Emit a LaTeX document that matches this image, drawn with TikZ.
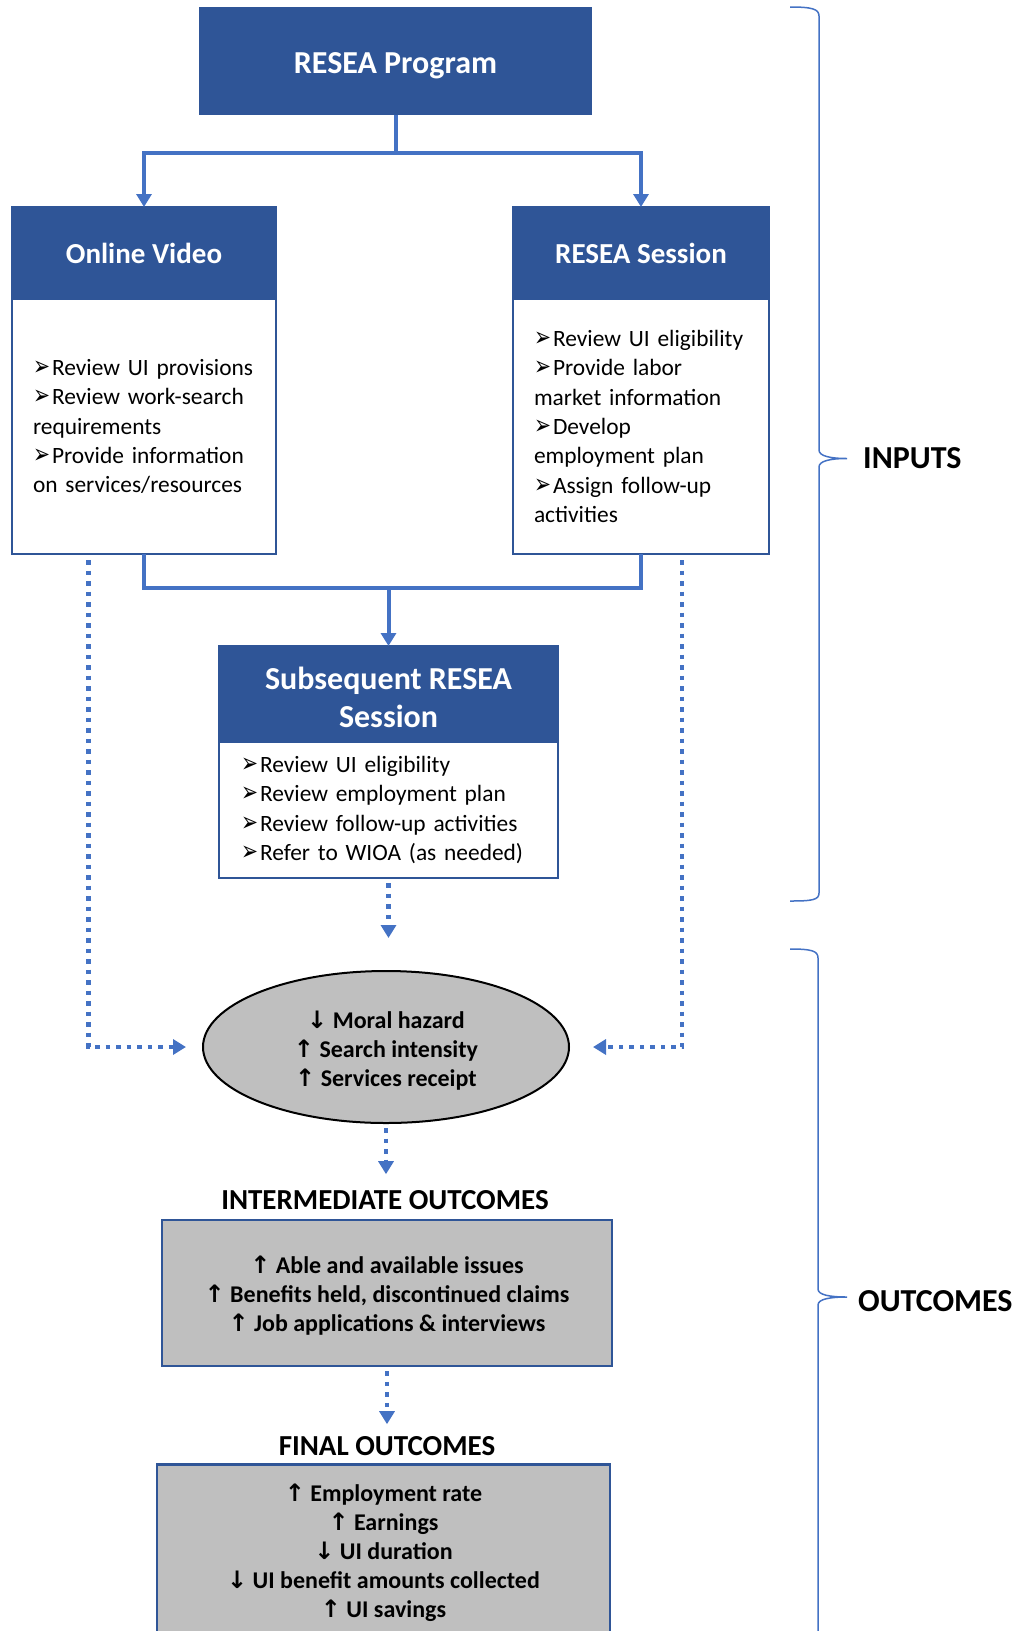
\documentclass[tikz,border=0pt]{standalone}
\usepackage{fontspec}
\usepackage{graphicx}
\setmainfont{Carlito}
\newfontfamily\symfont{DejaVu Sans}
\usetikzlibrary{arrows.meta,positioning,shapes.geometric}

\definecolor{hdrblue}{HTML}{2F5597}
\definecolor{linkblue}{HTML}{4472C4}
\definecolor{boxgray}{HTML}{BFBFBF}

\newcommand{\bul}{\resizebox{17pt}{14.5pt}{\symfont ➢}\hspace{2pt}}
\newcommand{\up}{{\symfont ↑}\ }
\newcommand{\dn}{{\symfont ↓}\ }
\newcommand{\lift}[1]{\rule{0pt}{#1}}

\tikzset{
  head/.style={rectangle, fill=hdrblue, draw=hdrblue, line width=1.5pt, text=white,
    font=\fontsize{29}{36}\selectfont\bfseries, align=center, outer sep=0pt},
  body/.style={rectangle, draw=hdrblue, line width=2.5pt, fill=white, align=left,
    font=\fontsize{23.4}{29.3}\selectfont, outer sep=0pt},
  result/.style={rectangle, draw=hdrblue, line width=2.5pt, fill=boxgray, align=center,
    font=\fontsize{24}{29}\selectfont\bfseries},
  caption/.style={font=\fontsize{29}{29}\selectfont\bfseries, inner sep=0pt},
  side/.style={font=\fontsize{32}{32}\selectfont\bfseries, inner sep=0pt},
  link/.style={draw=linkblue, line width=4pt},
  dots/.style={draw=linkblue, line width=4.5pt, dash pattern=on 4.5pt off 6pt},
  tip/.style={-{Triangle[width=15pt,length=13pt]}},
  brace/.style={draw=linkblue, line width=1.5pt},
}

\begin{document}
\begin{tikzpicture}[x=1pt,y=-1pt]
\useasboundingbox (0,0) rectangle (1021,1631);

% inputs
\node[head, minimum width=391, minimum height=107, text height=25pt, text depth=0pt, font=\fontsize{32}{38}\selectfont\bfseries] (prog) at (395.5,61) {RESEA Program};
\node[head, minimum width=264, minimum height=92] (vidhead) at (144,253) {Online Video};
\node[head, minimum width=256, minimum height=92] (seshead) at (641,253) {RESEA Session};
\node[body, below=0pt of vidhead, minimum width=264, minimum height=255, text width=222, inner xsep=21] (vidbody)
  {\bul Review UI provisions\\ \bul Review work-search\\ requirements\\ \bul Provide information\\ on services/resources};
\node[body, below=0pt of seshead, minimum width=256, minimum height=255, text width=214, inner xsep=21] (sesbody)
  {\bul Review UI eligibility\\ \bul Provide labor\\ market information\\ \bul Develop\\ employment plan\\ \bul Assign follow-up\\ activities};
\node[head, minimum width=339, minimum height=96, font=\fontsize{32}{38}\selectfont\bfseries] (subhead) at (388.5,694) {\lift{29pt}Subsequent RESEA\\Session};
\node[body, below=0pt of subhead, minimum width=339, minimum height=136, text width=295, inner xsep=22] (subbody)
  {\bul Review UI eligibility\\ \bul Review employment plan\\ \bul Review follow-up activities\\ \bul Refer to WIOA (as needed)};

% outcomes
\node[ellipse, minimum width=366, minimum height=152, inner sep=0pt, fill=boxgray, draw=black, line width=2pt,
  align=center, font=\fontsize{24}{29}\selectfont\bfseries] (moral) at (386,1047)
  {\lift{24pt}\dn Moral hazard\\ \up Search intensity\\ \up Services receipt};
\node[caption] (midlbl) at (385,1200) {INTERMEDIATE OUTCOMES};
\node[result, minimum width=450, minimum height=146] (midbox) at (387,1293)
  {\lift{23pt}\up Able and available issues\\ \up Benefits held, discontinued claims\\ \up Job applications \& interviews};
\node[caption] (finlbl) at (387,1446) {FINAL OUTCOMES};
\node[result, anchor=north, minimum width=453, minimum height=177] (finbox) at (383.5,1463)
  {\up Employment rate\\ \up Earnings\\ \dn UI duration\\ \dn UI benefit amounts collected\\ \up UI savings};

% solid links
\coordinate (split) at (395.5,153);
\draw[link] (prog) -- (split);
\draw[link,tip] (split) -| (vidhead);
\draw[link,tip] (split) -| (seshead);
\coordinate (merge) at (388.5,588);
\draw[link] (vidbody) -- (vidbody |- merge) -| (sesbody);
\draw[link,tip] (merge) -- (subhead);

% dotted links
\coordinate (vidtap) at (88.5,560);
\coordinate (sestap) at (682,560);
\draw[dots,tip,shorten >=16pt] (vidtap) |- (moral);
\draw[dots,tip,shorten >=23pt] (sestap) |- (moral);
\draw[dots,tip,shorten <=5pt,shorten >=32pt] (subbody) -- (subbody |- moral.north);
\draw[dots,tip,shorten <=4pt,shorten >=16pt] (moral) -- (moral |- midlbl.north);
\draw[dots,tip,shorten <=4pt,shorten >=12pt] (midbox) -- (midbox |- finlbl.north);

% braces
\coordinate (intip) at (847,458.5);
\draw[brace] (790,7) .. controls (812,7) and (819,9) .. (819,16) -- (819,450)
  .. controls (819,456) and (830,458.5) .. (intip)
  .. controls (830,458.5) and (819,461) .. (819,467) -- (819,893)
  .. controls (819,900) and (812,901) .. (790,901);
\node[side, right=16pt of intip] (inlbl) {INPUTS};
\coordinate (outip) at (847,1297);
\draw[brace] (790,949) .. controls (812,949) and (818,951) .. (818,958) -- (818,1289)
  .. controls (818,1295) and (830,1297) .. (outip)
  .. controls (830,1297) and (818,1299) .. (818,1305) -- (818,1645);
\node[side, right=11pt of outip, yshift=-4pt] (outlbl) {OUTCOMES};
\end{tikzpicture}
\end{document}
